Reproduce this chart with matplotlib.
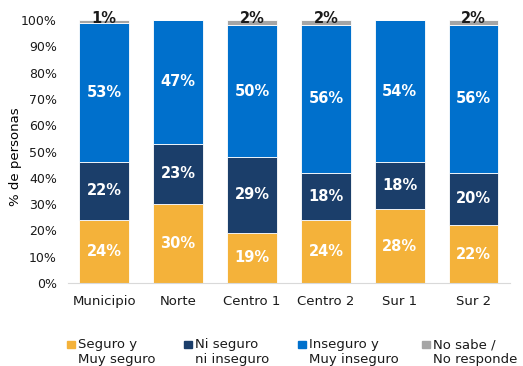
import numpy as np
import matplotlib
matplotlib.use("Agg")
import matplotlib.pyplot as plt
from matplotlib.patches import Rectangle

plt.rcParams["font.family"] = ["DejaVu Sans"]

# ── Data ───────────────────────────────────────────────────
zonas = ["Municipio", "Norte", "Centro 1", "Centro 2", "Sur 1", "Sur 2"]

seguro     = [24, 30, 19, 24, 28, 22]
ni_seguro  = [22, 23, 29, 18, 18, 20]
inseguro   = [53, 47, 50, 56, 54, 56]
no_sabe    = [1, 0, 2, 2, 0, 2]

series_labels = ["Seguro y\nMuy seguro", "Ni seguro\nni inseguro",
                 "Inseguro y\nMuy inseguro", "No sabe /\nNo responde"]
COLORS = ["#F4B23A", "#1B3E6A", "#0070CC", "#A5A5A5"]
TEXT_COLORS = ["white", "white", "white", "#1a1a1a"]

series = [seguro, ni_seguro, inseguro, no_sabe]

# ── Plot ───────────────────────────────────────────────────
fig = plt.figure(figsize=(5.23, 3.66), dpi=100)
ax = fig.add_axes([0.130, 0.227, 0.845, 0.718])

x = np.arange(len(zonas))
bottom = np.zeros(len(zonas))
for k, vals in enumerate(series):
    vals = np.array(vals, dtype=float) / 100
    ax.bar(x, vals, bottom=bottom, width=0.67, color=COLORS[k],
           edgecolor="white", linewidth=0.6, zorder=2)
    for i, v in enumerate(vals):
        if v <= 0:
            continue
        if k == 3:
            # small no-response share sits on top of the bar
            ax.text(x[i], bottom[i] + v + 0.006, f"{v*100:.0f}%",
                    ha="center", va="center", fontsize=10.5,
                    fontweight="semibold", color=TEXT_COLORS[k], clip_on=False)
        else:
            ax.text(x[i], bottom[i] + v / 2, f"{v*100:.0f}%",
                    ha="center", va="center", fontsize=10.5,
                    fontweight="semibold", color=TEXT_COLORS[k])
    bottom += vals

ax.set_xlim(-0.49, len(zonas) - 0.51)
ax.set_ylim(0, 1.0)
ax.set_yticks(np.linspace(0, 1, 11))
ax.set_yticklabels([f"{int(t)}%" for t in np.linspace(0, 100, 11)], fontsize=9)
ax.set_xticks(x)
ax.set_xticklabels(zonas, fontsize=9.5)
ax.tick_params(axis="both", length=0, colors="#1a1a1a")
ax.tick_params(axis="y", pad=8)
ax.tick_params(axis="x", pad=9)
for side in ["top", "right", "left"]:
    ax.spines[side].set_visible(False)
ax.spines["bottom"].set_color("#d9d9d9")
ax.set_ylabel("% de personas", fontsize=9.5)
ax.yaxis.set_label_coords(-0.104, 0.48)

# ── Legend ─────────────────────────────────────────────────
W, H = 523, 366
leg_x = [67, 184, 298, 422]
for lx, col, lab in zip(leg_x, COLORS, series_labels):
    fig.patches.append(Rectangle((lx / W, 1 - 348 / H), 7.5 / W, 7.5 / H,
                                 transform=fig.transFigure, color=col))
    fig.text((lx + 11) / W, 1 - 338 / H, lab, ha="left", va="top",
             fontsize=9.5, color="#1a1a1a", linespacing=1.15)

plt.savefig("out.png", dpi=100)
